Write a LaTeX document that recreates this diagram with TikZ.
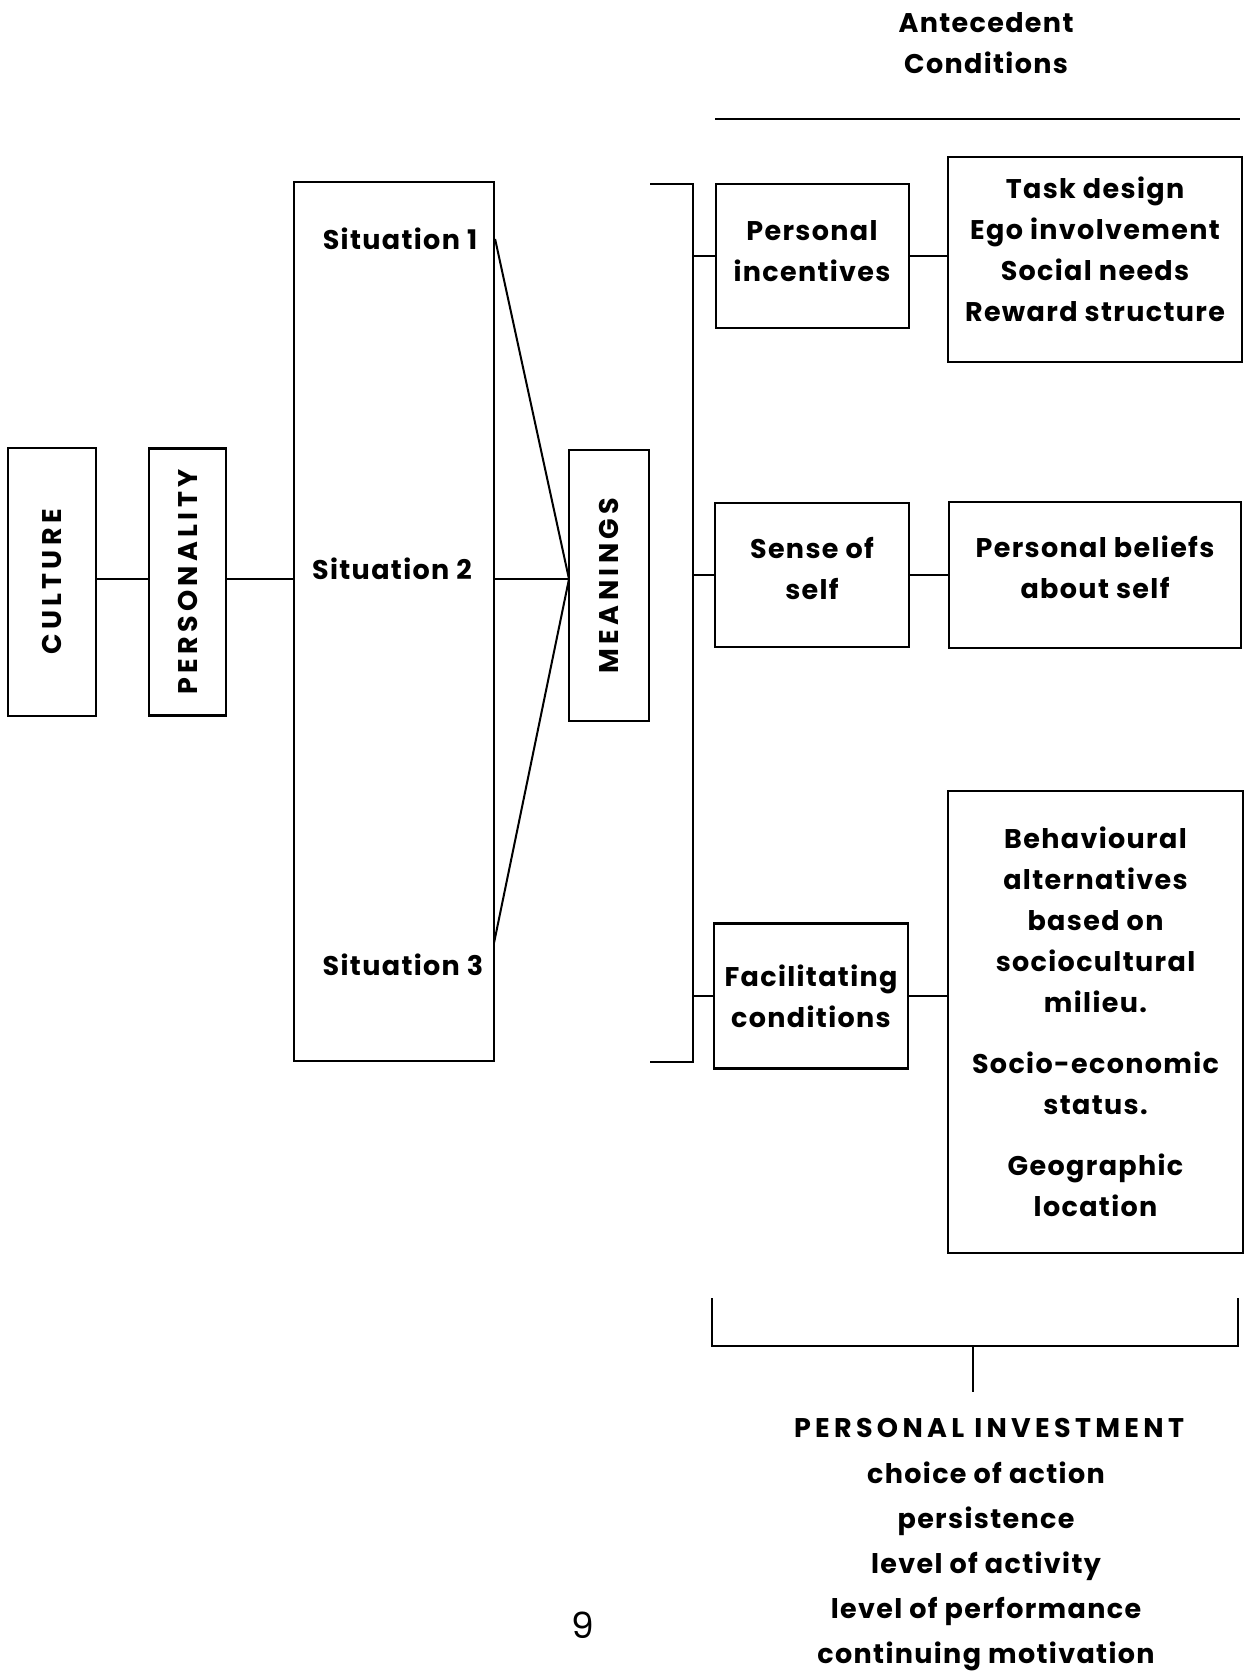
\documentclass[tikz,border=0pt]{standalone}
\usepackage{fontspec}
\setmainfont{Poppins}
\usetikzlibrary{positioning}
\newcommand{\lowtext}{\fontsize{27}{41}\selectfont\bfseries\addfontfeatures{LetterSpace=5}}
\newcommand{\captext}{\fontsize{27}{41}\selectfont\bfseries\addfontfeatures{LetterSpace=16}}
\tikzstyle{box} = [draw, line width=2.2pt, inner sep=0pt, align=center, font=\lowtext]
\tikzstyle{tag} = [inner sep=0pt, align=center, font=\lowtext]
\tikzstyle{captag} = [inner sep=0pt, align=center, font=\captext]
\tikzstyle{wire} = [line width=2pt]

\begin{document}
\begin{tikzpicture}[x=1pt,y=-1pt]
			\useasboundingbox (0,0) rectangle (1245,1672);
			% left chain
			\node[box, minimum width=88pt, minimum height=268pt] (culture) at (52,582) {};
			\node[captag, rotate=90] at (culture) {CULTURE};
			\node[box, minimum width=77pt, minimum height=267pt] (personality) at (187.5,582) {};
			\node[captag, rotate=90] at (personality) {PERSONALITY};
			\node[box, minimum width=200pt, minimum height=879pt] (sitbox) at (394,621.5) {};
			\node[tag] (sit1) at (400,239) {Situation 1};
			\node[tag] (sit2) at (392,569) {Situation 2};
			\node[tag] (sit3) at (403,965) {Situation 3};
			\node[box, minimum width=80pt, minimum height=271pt] (meanings) at (609,585.5) {};
			\node[captag, rotate=90] at (meanings) {MEANINGS};
			\coordinate (mjoin) at (569,579);
			\coordinate (s3) at (494,943);
			\draw[wire] (culture.east |- mjoin) -- (personality.west |- mjoin);
			\draw[wire] (personality.east |- mjoin) -- (sitbox.west |- mjoin);
			\draw[wire] (sitbox.east |- sit1) -- (mjoin);
			\draw[wire] (sitbox.east |- mjoin) -- (mjoin);
			\draw[wire] (s3) -- (mjoin);
			% bracket
			\coordinate (brtop) at (693,184);
			\coordinate (brbot) at (693,1062);
			\draw[wire] (meanings.east |- brtop) -- (brtop) -- (brbot) -- (meanings.east |- brbot);
			% antecedent conditions
			\node[tag] (ante) at (986,43) {Antecedent\\Conditions};
			\coordinate (ruleL) at (715,119);
			\coordinate (ruleR) at (1240,119);
			\draw[wire] (ruleL) -- (ruleR);
			% right column
			\node[box, minimum width=193pt, minimum height=144pt] (incent) at (812.5,256) {};
			\node[tag] at (812,251) {Personal\\incentives};
			\node[box, minimum width=294pt, minimum height=205pt] (task) at (1095,259.5) {};
			\node[tag] at (1095,249) {Task design\\Ego involvement\\Social needs\\Reward structure};
			\node[box, minimum width=194pt, minimum height=144pt] (sense) at (812,575) {};
			\node[tag] at (812,569) {Sense of\\self};
			\node[box, minimum width=292pt, minimum height=146pt] (beliefs) at (1095,575) {};
			\node[tag] at (1095,567) {Personal beliefs\\about self};
			\node[box, minimum width=194pt, minimum height=145pt] (facil) at (811,996) {Facilitating\\conditions};
			\node[box, minimum width=295pt, minimum height=462pt] (behav) at (1095.5,1022) {Behavioural\\alternatives\\based on\\sociocultural\\milieu.\\[20pt]Socio-economic\\status.\\[20pt]Geographic\\location};
			\draw[wire] (brtop |- incent) -- (incent.west);
			\draw[wire] (brtop |- sense) -- (sense.west);
			\draw[wire] (brtop |- facil) -- (facil.west);
			\draw[wire] (incent.east) -- (incent.east -| task.west);
			\draw[wire] (sense.east) -- (sense.east -| beliefs.west);
			\draw[wire] (facil.east) -- (facil.east -| behav.west);
			% personal investment
			\coordinate (bl) at (712,1298);
			\coordinate (br) at (1238,1298);
			\coordinate (stemtop) at (973,1346);
			\coordinate (stemend) at (973,1392);
			\draw[wire] (bl) -- (bl |- stemtop) -- (br |- stemtop) -- (br);
			\draw[wire] (stemtop) -- (stemend);
			\node[captag] (invest) at (989,1428) {PERSONAL INVESTMENT};
			\node[tag, font=\fontsize{27}{45}\selectfont\bfseries\addfontfeatures{LetterSpace=5}, anchor=north] (aspects) at (986,1462) {choice of action\\persistence\\level of activity\\level of performance\\continuing motivation};
			\node[font=\fontsize{36}{40}\selectfont] (page) at (583,1625) {9};
		\end{tikzpicture}
\end{document}
